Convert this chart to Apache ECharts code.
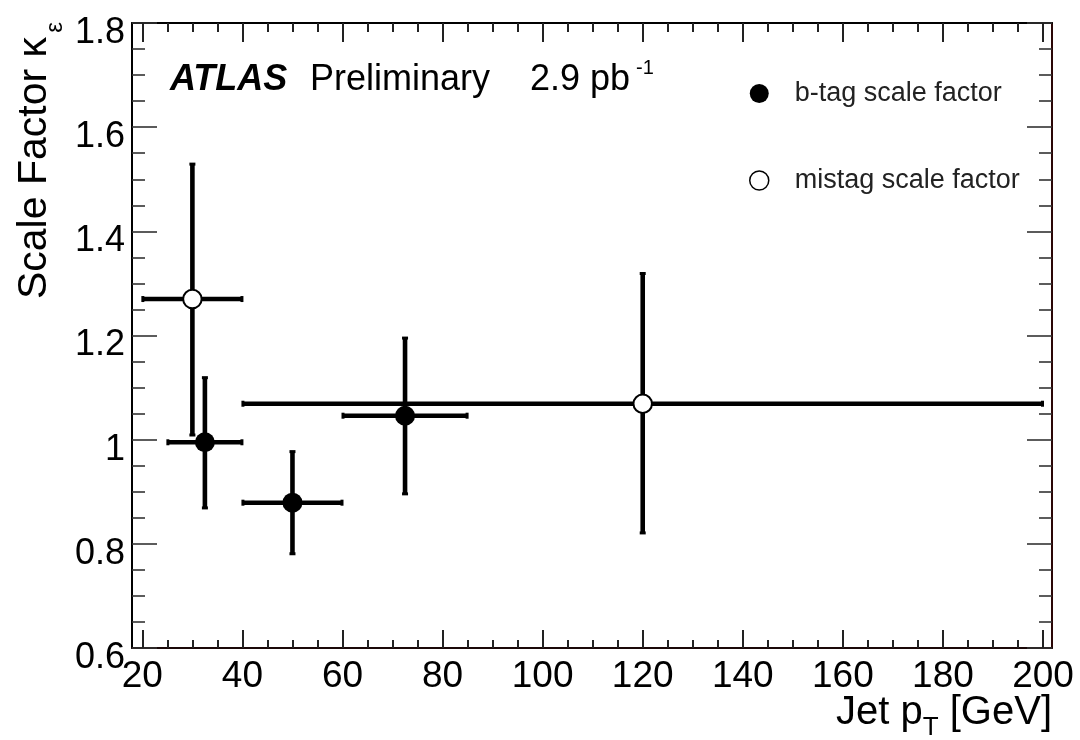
<!DOCTYPE html>
<html>
<head>
<meta charset="utf-8">
<script src="https://cdn.jsdelivr.net/npm/echarts@6/dist/echarts.min.js"></script>
<style>
  html, body { margin: 0; padding: 0; background: #fff; }
  #chart { width: 1080px; height: 740px; }
</style>
</head>
<body>
<div id="chart"></div>
<script>
// b-tag efficiency scale factor per jet pT bin
const btagPt     = [32.5, 50, 72.5];
const btagPtLow  = [25, 40, 60];
const btagPtHigh = [40, 60, 85];
const btagSF     = [0.995, 0.879, 1.046];
const btagSFLow  = [0.868, 0.780, 0.895];
const btagSFHigh = [1.120, 0.978, 1.196];

// mistag scale factor per jet pT bin
const mistagPt     = [30, 120];
const mistagPtLow  = [20, 40];
const mistagPtHigh = [40, 200];
const mistagSF     = [1.270, 1.069];
const mistagSFLow  = [1.008, 0.820];
const mistagSFHigh = [1.530, 1.320];

// axis ticks
const ptMajorTicks = [20, 40, 60, 80, 100, 120, 140, 160, 180, 200];
const ptMinorTicks = [20, 25, 30, 35, 40, 45, 50, 55, 60, 65, 70, 75, 80, 85, 90, 95, 100,
                      105, 110, 115, 120, 125, 130, 135, 140, 145, 150, 155, 160, 165, 170,
                      175, 180, 185, 190, 195, 200];

const FONT = '"Liberation Sans", Arial, Helvetica, sans-serif';

function rows(x, xl, xh, y, yl, yh) {
  return x.map((v, i) => [v, y[i], xl[i], xh[i], yl[i], yh[i]]);
}
const btagRows = rows(btagPt, btagPtLow, btagPtHigh, btagSF, btagSFLow, btagSFHigh);
const mistagRows = rows(mistagPt, mistagPtLow, mistagPtHigh, mistagSF, mistagSFLow, mistagSFHigh);

// horizontal bin-width bar and vertical uncertainty bar for each point
function errorBars(params, api) {
  const x = api.value(0), y = api.value(1);
  const l = api.coord([api.value(2), y]);
  const r = api.coord([api.value(3), y]);
  const b = api.coord([x, api.value(4)]);
  const t = api.coord([x, api.value(5)]);
  const st = { stroke: '#000', lineWidth: 4.6, fill: null };
  const cap = { fill: '#000' };
  return {
    type: 'group',
    children: [
      { type: 'line', shape: { x1: l[0], y1: l[1], x2: r[0], y2: r[1] }, style: st },
      { type: 'line', shape: { x1: t[0], y1: t[1], x2: b[0], y2: b[1] }, style: st },
      { type: 'rect', shape: { x: l[0] - 1, y: l[1] - 3, width: 3, height: 6 }, style: cap },
      { type: 'rect', shape: { x: r[0] - 2, y: r[1] - 3, width: 3, height: 6 }, style: cap },
      { type: 'rect', shape: { x: t[0] - 3, y: t[1] - 1, width: 6, height: 3 }, style: cap },
      { type: 'rect', shape: { x: b[0] - 3, y: b[1] - 2, width: 6, height: 3 }, style: cap }
    ]
  };
}

const xRange = { min: 17.93, max: 201.8 };
const tickStyle = { color: '#222', width: 2 };

const chart = echarts.init(document.getElementById('chart'), null, { renderer: 'canvas' });

chart.setOption({
  animation: false,
  backgroundColor: '#fff',
  grid: { left: 132, right: 28, top: 23, bottom: 92, containLabel: false, outerBoundsMode: 'none' },
  xAxis: [
    {
      type: 'value', position: 'bottom', ...xRange,
      axisLine: { show: true, onZero: false, lineStyle: { color: '#1a0808', width: 2 } },
      axisTick: { show: true, inside: true, length: 18, customValues: ptMajorTicks, lineStyle: tickStyle },
      axisLabel: { show: true, customValues: ptMajorTicks, margin: 10, fontSize: 37, color: '#000', fontFamily: FONT },
      splitLine: { show: false },
      name: 'Jet p{sub|T} [GeV]',
      nameLocation: 'end', nameGap: 0, nameMoveOverlap: false,
      nameTextStyle: {
        fontSize: 40, color: '#000', fontFamily: FONT, align: 'right', verticalAlign: 'top',
        padding: [37, 0, 0, 0],
        rich: { sub: { fontSize: 26, color: '#000', fontFamily: FONT, padding: [30, 0, 0, 0] } }
      }
    },
    {
      type: 'value', position: 'bottom', ...xRange,
      axisLine: { show: false },
      axisTick: { show: true, inside: true, length: 8, customValues: ptMinorTicks, lineStyle: tickStyle },
      axisLabel: { show: false }, splitLine: { show: false }
    },
    {
      type: 'value', position: 'top', ...xRange,
      axisLine: { show: true, onZero: false, lineStyle: { color: '#000', width: 2 } },
      axisTick: { show: true, inside: true, length: 19, customValues: ptMajorTicks, lineStyle: tickStyle },
      axisLabel: { show: false }, splitLine: { show: false }
    },
    {
      type: 'value', position: 'top', ...xRange,
      axisLine: { show: false },
      axisTick: { show: true, inside: true, length: 9, customValues: ptMinorTicks, lineStyle: tickStyle },
      axisLabel: { show: false }, splitLine: { show: false }
    }
  ],
  yAxis: [
    {
      type: 'value', position: 'left', min: 0.6, max: 1.8, interval: 0.2,
      axisLine: { show: true, onZero: false, lineStyle: { color: '#000', width: 2 } },
      axisTick: { show: true, inside: true, length: 25, lineStyle: { color: '#333', width: 1.6 } },
      minorTick: { show: true, splitNumber: 4, length: 13, lineStyle: { color: '#333', width: 1.6 } },
      axisLabel: { show: true, margin: 7, fontSize: 36, color: '#000', fontFamily: FONT, verticalAlign: 'top', lineHeight: 20 },
      splitLine: { show: false }, minorSplitLine: { show: false }
    },
    {
      type: 'value', position: 'right', min: 0.6, max: 1.8, interval: 0.2,
      axisLine: { show: true, onZero: false, lineStyle: { color: '#2a0606', width: 2 } },
      axisTick: { show: true, inside: true, length: 25, lineStyle: { color: '#333', width: 1.6 } },
      minorTick: { show: true, splitNumber: 4, length: 13, lineStyle: { color: '#333', width: 1.6 } },
      axisLabel: { show: false },
      splitLine: { show: false }, minorSplitLine: { show: false }
    }
  ],
  legend: {
    orient: 'vertical', left: 744, top: 75,
    itemWidth: 19, itemHeight: 19, itemGap: 60,
    icon: 'circle',
    selectedMode: false,
    textStyle: { fontSize: 27, color: '#222', fontFamily: FONT, lineHeight: 19, padding: [0, 0, 0, 21] },
    data: [
      { name: 'b-tag scale factor' },
      { name: 'mistag scale factor', itemStyle: { borderWidth: 1.5 } }
    ]
  },
  graphic: [
    {
      type: 'text', x: 170, y: 80,
      style: { text: 'ATLAS', font: 'italic bold 36px ' + FONT, fill: '#000', verticalAlign: 'middle' }
    },
    {
      type: 'text', x: 310, y: 80,
      style: { text: 'Preliminary', font: '36px ' + FONT, fill: '#000', verticalAlign: 'middle' }
    },
    {
      type: 'text', x: 530, y: 80,
      style: { text: '2.9 pb', font: '36px ' + FONT, fill: '#000', verticalAlign: 'middle' }
    },
    {
      type: 'text', x: 636, y: 68,
      style: { text: '-1', font: '20px ' + FONT, fill: '#000', verticalAlign: 'middle' }
    },
    {
      type: 'text', x: 35, y: 37, rotation: Math.PI / 2,
      style: { text: 'Scale Factor \u03BA', font: '41px ' + FONT, fill: '#000', align: 'right', verticalAlign: 'middle' }
    },
    {
      type: 'text', x: 55, y: 22, rotation: Math.PI / 2,
      style: { text: '\u03B5', font: '24px ' + FONT, fill: '#000', align: 'right', verticalAlign: 'middle' }
    }
  ],
  series: [
    {
      type: 'custom', name: 'b-tag bars', xAxisIndex: 0, yAxisIndex: 0,
      renderItem: errorBars, data: btagRows, z: 2, silent: true
    },
    {
      type: 'custom', name: 'mistag bars', xAxisIndex: 0, yAxisIndex: 0,
      renderItem: errorBars, data: mistagRows, z: 2, silent: true
    },
    {
      type: 'scatter', name: 'b-tag scale factor', xAxisIndex: 0, yAxisIndex: 0,
      symbol: 'circle', symbolSize: 20, z: 5,
      itemStyle: { color: '#000', opacity: 1 },
      data: btagRows.map(r => [r[0], r[1]])
    },
    {
      type: 'scatter', name: 'mistag scale factor', xAxisIndex: 0, yAxisIndex: 0,
      symbol: 'circle', symbolSize: 18.5, z: 5,
      itemStyle: { color: '#fff', borderColor: '#000', borderWidth: 2, opacity: 1 },
      data: mistagRows.map(r => [r[0], r[1]])
    }
  ]
});
</script>
</body>
</html>
